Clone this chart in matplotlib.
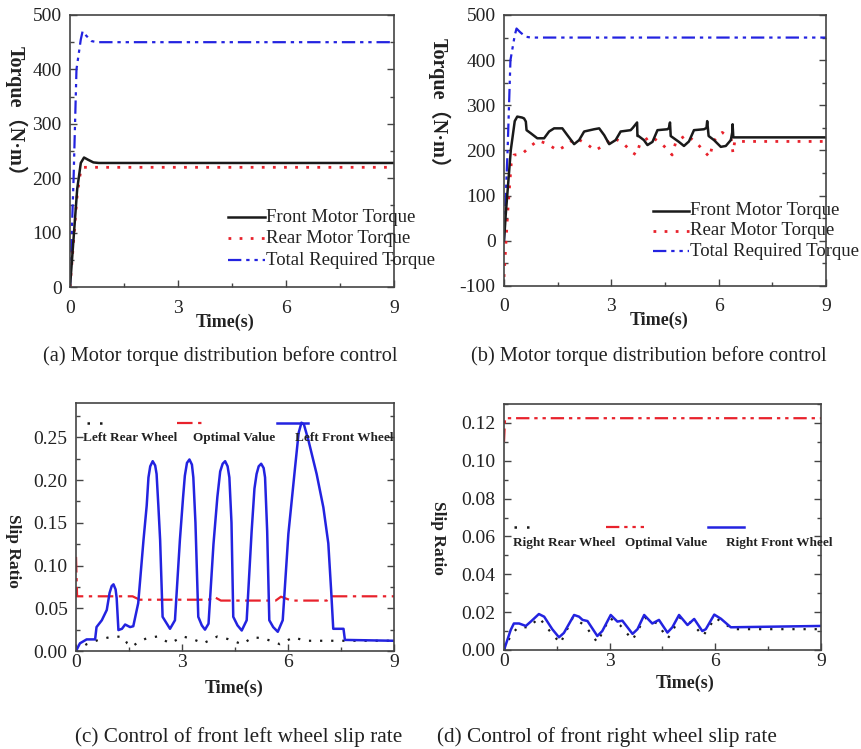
import matplotlib
matplotlib.use("Agg")
import matplotlib.pyplot as plt
from matplotlib.ticker import MultipleLocator, FormatStrFormatter

plt.rcParams['font.family'] = ['Liberation Serif', 'Noto Sans CJK SC']
plt.rcParams['axes.unicode_minus'] = False

# ---------------- data ----------------
# (a) before control
t_a_front = [0, 0.1, 0.2, 0.3, 0.39, 0.5, 0.65, 0.8, 9]
front_a = [0, 90, 180, 228, 238, 234, 229, 228, 228]
t_a_rear = [0, 0.1, 0.2, 0.3, 0.35, 9]
rear_a = [0, 85, 170, 215, 220, 220]
t_total = [0, 0.1, 0.18, 0.3, 0.35, 0.45, 0.6, 0.75, 9]
total = [0, 200, 400, 455, 470, 462, 452, 450, 450]

# (b) second torque case
t_b_front = [0, 0.05, 0.19, 0.3, 0.37, 0.5, 0.56, 0.61, 0.63, 0.75, 0.93, 1.12,
             1.26, 1.40, 1.63, 1.77, 1.96, 2.10, 2.24, 2.52, 2.66, 2.80, 2.94,
             3.12, 3.26, 3.54, 3.60, 3.72, 3.73, 3.76, 3.91, 4.01, 4.15, 4.29,
             4.57, 4.61, 4.64, 4.66, 4.89, 5.03, 5.17, 5.31, 5.59, 5.66, 5.68,
             5.72, 5.87, 6.06, 6.20, 6.34, 6.38, 6.39, 6.41, 9]
front_b = [0, 60, 201, 265, 275, 273, 271, 264, 245, 238, 227, 227,
           242, 249, 249, 234, 214, 223, 242, 247, 249, 234, 214,
           223, 242, 245, 250, 262, 232, 232, 223, 212, 219, 245,
           247, 250, 262, 232, 219, 210, 220, 245, 247, 250, 265,
           232, 223, 208, 210, 223, 240, 258, 229, 229]
t_b_rear = [0, 0.1, 0.2, 0.28, 0.5, 0.75, 0.95, 1.2, 1.5, 1.75, 2.0, 2.3, 2.55,
            2.8, 3.05, 3.3, 3.6, 3.7, 3.8, 4.1, 4.4, 4.6, 4.7, 4.8, 5.1, 5.4,
            5.6, 5.75, 5.85, 6.1, 6.35, 6.4, 6.45, 9]
rear_b = [-80, 60, 170, 190, 192, 210, 222, 215, 200, 212, 228, 215, 200,
          212, 228, 218, 195, 190, 215, 232, 215, 200, 190, 218, 235, 215,
          198, 185, 220, 240, 225, 195, 220, 220]

# (c) front left wheel slip
t_c_front = [0, 0.11, 0.3, 0.54, 0.58, 0.73, 0.87, 0.95, 1.01, 1.06, 1.12, 1.15,
             1.2, 1.3, 1.39, 1.53, 1.62, 1.76, 1.91, 2.0, 2.05, 2.1, 2.17, 2.24,
             2.28, 2.33, 2.38, 2.45, 2.57, 2.66, 2.8, 2.94, 3.03, 3.08, 3.14,
             3.21, 3.28, 3.32, 3.38, 3.46, 3.56, 3.65, 3.75, 3.89, 4.0, 4.08,
             4.15, 4.22, 4.29, 4.34, 4.4, 4.45, 4.57, 4.69, 4.83, 4.97, 5.05,
             5.11, 5.17, 5.24, 5.31, 5.35, 5.41, 5.47, 5.58, 5.71, 5.85, 6.01,
             6.2, 6.3, 6.38, 6.45, 6.58, 6.81, 7.0, 7.14, 7.22, 7.28, 7.57, 7.61, 9]
front_c = [0, 0.009, 0.0136, 0.0136, 0.028, 0.036, 0.048, 0.068, 0.076, 0.078, 0.072, 0.062,
           0.0245, 0.026, 0.031, 0.028, 0.029, 0.056, 0.13, 0.17, 0.203, 0.216, 0.222, 0.217,
           0.207, 0.17, 0.13, 0.04, 0.032, 0.026, 0.036, 0.13, 0.18, 0.205, 0.22,
           0.224, 0.218, 0.203, 0.15, 0.04, 0.03, 0.025, 0.032, 0.125, 0.18, 0.21,
           0.219, 0.222, 0.216, 0.203, 0.15, 0.04, 0.03, 0.024, 0.036, 0.14, 0.19,
           0.207, 0.216, 0.219, 0.214, 0.203, 0.14, 0.036, 0.028, 0.0225, 0.036, 0.137,
           0.215, 0.255, 0.267, 0.265, 0.246, 0.207, 0.168, 0.126, 0.071, 0.026, 0.026, 0.013, 0.012]
t_c_rear = [0, 0.3, 0.62, 0.96, 1.15, 1.33, 1.45, 1.58, 1.75, 2.0, 2.3, 2.66, 3.03,
            3.3, 3.6, 4.0, 4.3, 4.7, 5.0, 5.3, 5.77, 6.15, 6.5, 9]
rear_c = [0, 0.008, 0.0128, 0.0163, 0.017, 0.0163, 0.009, 0.005, 0.01, 0.015, 0.017,
          0.009, 0.017, 0.014, 0.009, 0.017, 0.014, 0.008, 0.016, 0.015, 0.008, 0.016,
          0.012, 0.012]
t_c_opt = [0, 0.03, 1.6, 1.8, 3.75, 3.9, 4.1, 5.65, 5.8, 6.1, 7.1, 7.25, 9]
opt_c = [0.11, 0.064, 0.064, 0.060, 0.060, 0.0635, 0.059, 0.059, 0.0635, 0.059,
         0.059, 0.064, 0.064]

# (d) front right wheel slip
t_d_front = [0, 0.19, 0.28, 0.43, 0.62, 0.76, 0.99, 1.14, 1.37, 1.56, 1.7, 1.99,
             2.13, 2.23, 2.37, 2.65, 2.79, 3.03, 3.22, 3.36, 3.65, 3.79, 3.98,
             4.21, 4.4, 4.64, 4.78, 4.97, 5.21, 5.4, 5.63, 5.73, 5.97, 6.16, 6.44, 9]
front_d = [0, 0.0106, 0.014, 0.014, 0.0127, 0.015, 0.019, 0.0176, 0.011, 0.0067,
           0.009, 0.0185, 0.0176, 0.0159, 0.0153, 0.0074, 0.01, 0.0185, 0.015,
           0.0155, 0.0085, 0.011, 0.0185, 0.014, 0.0159, 0.0092, 0.012, 0.0185,
           0.0132, 0.0164, 0.01, 0.011, 0.0187, 0.0165, 0.012, 0.0127]
t_d_rear = [0, 0.2, 0.4, 0.7, 1.0, 1.3, 1.6, 1.95, 2.3, 2.65, 3.0, 3.3, 3.65,
            4.0, 4.35, 4.65, 5.0, 5.35, 5.65, 6.0, 6.5, 9]
rear_d = [0, 0.008, 0.012, 0.012, 0.017, 0.01, 0.0035, 0.017, 0.013, 0.004, 0.017,
          0.013, 0.0053, 0.017, 0.014, 0.006, 0.017, 0.014, 0.0074, 0.017, 0.011, 0.011]
t_d_opt = [0, 0.03, 9]
opt_d = [0.11, 0.1225, 0.1225]

x_ticks = [0, 3, 6, 9]
torque_legend = ["Front Motor Torque", "Rear Motor Torque", "Total Required Torque"]
captions = ["(a) Motor torque distribution before control",
            "(b) Motor torque distribution before control",
            "(c) Control of front left wheel slip rate",
            "(d) Control of front right wheel slip rate"]

# ---------------- styles ----------------
BLACK = "#1a1a1a"
RED = "#e8222c"
BLUE = "#2323e0"
TXT = "#222222"
DOTTED = (0, (1, 3))
SPARSE_DOTS = (0, (1, 4))
DASHDOT = (0, (7, 2.5, 1.5, 2.5))
DASHDOTDOT = (0, (6, 2.2, 1.5, 2.2, 1.5, 2.2))

fig = plt.figure(figsize=(8.62, 7.49), dpi=100)


def style_axes(ax, ymin, ymax, ymajor, fmt=None, xpad=6):
    ax.set_xlim(0, 9)
    ax.set_ylim(ymin, ymax)
    ax.set_xticks(x_ticks)
    ax.xaxis.set_minor_locator(MultipleLocator(1.5))
    ax.yaxis.set_major_locator(MultipleLocator(ymajor))
    ax.yaxis.set_minor_locator(MultipleLocator(ymajor / 2))
    if fmt:
        ax.yaxis.set_major_formatter(FormatStrFormatter(fmt))
    ax.tick_params(which="both", direction="in", right=True, top=False,
                   colors="#444444", labelcolor=TXT, labelsize=14)
    ax.tick_params(axis="x", pad=xpad)
    ax.tick_params(axis="y", pad=6)
    ax.tick_params(which="major", length=5, width=1)
    ax.tick_params(which="minor", length=3, width=1)
    for s in ax.spines.values():
        s.set_color("#444444")
        s.set_linewidth(1.2)


def torque_legend_draw(ax, x0, x1, ys):
    styles = [dict(color=BLACK, ls="-", lw=1.8),
              dict(color=RED, ls=DOTTED, lw=2.0),
              dict(color=BLUE, ls=DASHDOTDOT, lw=1.6)]
    for lab, y, st in zip(torque_legend, ys, styles):
        ax.plot([x0, x1], [y, y], transform=ax.transAxes, clip_on=False, **st)
        ax.text(x1 + 0.003, y, lab, transform=ax.transAxes, fontsize=13.5,
                va="center", ha="left", color=TXT, clip_on=False)


def slip_legend_draw(ax, labels, hx, hy, tx, ty, opt_ls):
    styles = [dict(color=BLACK, ls=SPARSE_DOTS, lw=1.8),
              dict(color=RED, ls=opt_ls, lw=1.6),
              dict(color=BLUE, ls="-", lw=1.8)]
    for lab, (xa, xb), txx, st in zip(labels, hx, tx, styles):
        ax.plot([xa, xb], [hy, hy], transform=ax.transAxes, clip_on=False, **st)
        ax.text(txx, ty, lab, transform=ax.transAxes, fontsize=9.5,
                fontweight="bold", va="center", ha="left", color=TXT)


# (a)
ax_a = fig.add_axes([0.0812, 0.6168, 0.3759, 0.3632])
ax_a.plot(t_total, total, color=BLUE, ls=DASHDOTDOT, lw=1.6)
ax_a.plot(t_a_rear, rear_a, color=RED, ls=DOTTED, lw=2.0)
ax_a.plot(t_a_front, front_a, color=BLACK, lw=1.8)
style_axes(ax_a, 0, 500, 100, xpad=9)
torque_legend_draw(ax_a, 0.488, 0.602, [0.257, 0.18, 0.099])

# (b)
ax_b = fig.add_axes([0.5847, 0.6182, 0.3735, 0.3618])
ax_b.plot(t_total, total, color=BLUE, ls=DASHDOTDOT, lw=1.6)
ax_b.plot(t_b_rear, rear_b, color=RED, ls=DOTTED, lw=2.0)
ax_b.plot(t_b_front, front_b, color=BLACK, lw=1.8)
style_axes(ax_b, -100, 500, 100, xpad=9)
torque_legend_draw(ax_b, 0.463, 0.575, [0.277, 0.203, 0.129])

# (c)
ax_c = fig.add_axes([0.0882, 0.1308, 0.3689, 0.3311])
ax_c.plot(t_c_rear, rear_c, color=BLACK, ls=SPARSE_DOTS, lw=1.6)
ax_c.plot(t_c_opt, opt_c, color=RED, ls=DASHDOT, lw=1.6)
ax_c.plot(t_c_front, front_c, color=BLUE, lw=1.8)
style_axes(ax_c, 0, 0.29, 0.05, "%.2f", xpad=2)
slip_legend_draw(ax_c, ["Left Rear Wheel", "Optimal Value", "Left Front Wheel"],
                 [(0.035, 0.107), (0.318, 0.412), (0.632, 0.73)], 0.919,
                 [0.022, 0.368, 0.689], 0.859, DASHDOT)

# (d)
ax_d = fig.add_axes([0.5847, 0.1322, 0.3677, 0.3284])
ax_d.plot(t_d_rear, rear_d, color=BLACK, ls=SPARSE_DOTS, lw=1.6)
ax_d.plot(t_d_opt, opt_d, color=RED, ls=DASHDOTDOT, lw=1.6)
ax_d.plot(t_d_front, front_d, color=BLUE, lw=1.8)
style_axes(ax_d, 0, 0.13, 0.02, "%.2f", xpad=2)
slip_legend_draw(ax_d, ["Right Rear Wheel", "Optimal Value", "Right Front Wheel"],
                 [(0.032, 0.107), (0.322, 0.442), (0.644, 0.757)], 0.5,
                 [0.028, 0.382, 0.70], 0.435, DASHDOTDOT)

# axis labels placed in figure pixels
W, H = 862, 749


def ftext(x, y, s, **kw):
    fig.text(x / W, 1 - y / H, s, ha="center", va="center", color=TXT, **kw)


lab_kw = dict(fontsize=13, fontweight="bold")
ftext(225, 322, "Time(s)", **lab_kw)
ftext(659, 320, "Time(s)", **lab_kw)
ftext(234, 688, "Time(s)", **lab_kw)
ftext(685, 683, "Time(s)", **lab_kw)
ftext(16, 116, "Torque（N·m）", rotation=-90, fontsize=14.5, fontweight="bold")
ftext(439, 108, "Torque（N·m）", rotation=-90, fontsize=14.5, fontweight="bold")
ftext(13, 551, "Slip Ratio", rotation=-90, fontsize=12.5, fontweight="bold")
ftext(438, 538, "Slip Ratio", rotation=-90, fontsize=12.5, fontweight="bold")

ftext(220, 356, captions[0], fontsize=14.7)
ftext(649, 356, captions[1], fontsize=14.7)
ftext(239, 737, captions[2], fontsize=15.3)
ftext(607, 737, captions[3], fontsize=15.3)

fig.savefig("out.png", dpi=100)
